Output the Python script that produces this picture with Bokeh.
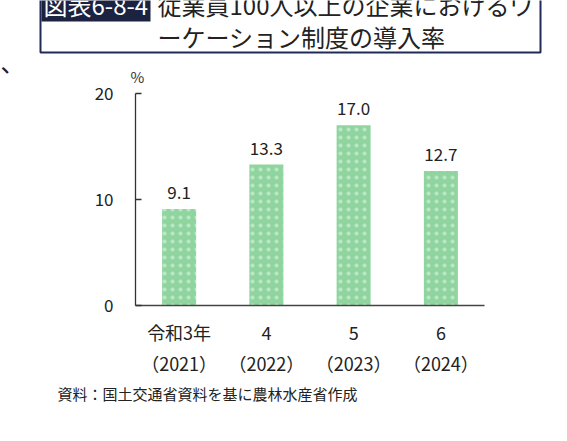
from bokeh.plotting import figure
from bokeh.layouts import column
from bokeh.models import Range1d, FixedTicker, CategoricalAxis, FactorRange, ColumnDataSource
from bokeh.core.properties import value
from bokeh.embed import file_html
from bokeh.resources import INLINE

# ---- data ----
eras = ["令和3年", "4", "5", "6"]
years = ["（2021）", "（2022）", "（2023）", "（2024）"]
rates = [9.1, 13.3, 17.0, 12.7]
y_ticks = [0, 10, 20]

title_tag = "図表6-8-4"
title_line1 = "従業員100人以上の企業におけるワ"
title_line2 = "ーケーション制度の導入率"
unit_text = "%"
source_text = "資料：国土交通省資料を基に農林水産省作成"

FONT = "Noto Sans CJK JP"
W = 567
TOP_H, MAIN_H, BOT_H = 85, 293, 63
FL, FR, FT, FB = 135, 484, 93, 305  # frame edges in page px


def no_align(f):
    try:
        f.frame_align = False
    except Exception:
        pass


def deco_fig(h):
    f = figure(width=W, height=h, x_range=Range1d(0, W), y_range=Range1d(h, 0),
               x_axis_type=None, y_axis_type=None, output_backend="svg",
               toolbar_location=None, min_border=0)
    f.outline_line_color = None
    f.xgrid.visible = False
    f.ygrid.visible = False
    no_align(f)
    return f


# ---- title strip ----
top = deco_fig(TOP_H)
top.quad(left=[40], right=[540], top=[-20], bottom=[52],
         fill_color=None, line_color="#1f2a56", line_width=2)
top.quad(left=[41], right=[150], top=[-20], bottom=[21],
         fill_color="#1c2340", line_color=None)
top.text(x=[43], y=[4], text=[title_tag], text_font=value(FONT),
         text_font_size="24px", text_color="white",
         text_align="left", text_baseline="middle")
top.text(x=[157, 157], y=[4, 36], text=[title_line1, title_line2],
         text_font=value(FONT), text_font_size="24px", text_color="#222222",
         text_align="left", text_baseline="middle")
top.text(x=[0], y=[61], text=["、"], text_font=value(FONT),
         text_font_size="24px", text_color="#222222",
         text_align="left", text_baseline="middle")
top.text(x=[137], y=[76], text=[unit_text], text_font=value(FONT),
         text_font_size="15px", text_color="#333333",
         text_align="center", text_baseline="middle")

# ---- main chart ----
p = figure(x_range=FactorRange(*eras), y_range=Range1d(0, 20), width=W, height=MAIN_H,
           output_backend="svg", toolbar_location=None,
           min_border_left=FL, min_border_right=W - FR,
           min_border_top=FT - TOP_H, min_border_bottom=TOP_H + MAIN_H - FB)
p.outline_line_color = None
p.xgrid.visible = False
p.ygrid.visible = False
no_align(p)
p.extra_x_ranges = {"years": FactorRange(*years)}

src = ColumnDataSource(dict(x=eras, top=rates,
                            label=[f"{v:.1f}" for v in rates],
                            ly=[v + 1.55 for v in rates]))
p.vbar(x="x", top="top", width=0.39, source=src,
       fill_color="#90d5a0", line_color=None,
       hatch_pattern="dot", hatch_color="white", hatch_alpha=0.4,
       hatch_scale=8, hatch_weight=0.6)
p.text(x="x", y="ly", text="label", source=src,
       text_font=value(FONT), text_font_size="17px", text_color="#222222",
       text_align="center", text_baseline="alphabetic")

ya = p.yaxis[0]
ya.ticker = FixedTicker(ticks=y_ticks)
ya.minor_tick_line_color = None
ya.major_tick_in = 6
ya.major_tick_out = 0
ya.axis_line_color = "#333333"
ya.axis_line_width = 1.3
ya.major_tick_line_color = "#333333"
ya.major_tick_line_width = 1.3
ya.major_label_text_font = FONT
ya.major_label_text_font_size = "17px"
ya.major_label_text_color = "#222222"
ya.major_label_standoff = 22

xa = p.xaxis[0]
xa.axis_line_color = "#444444"
xa.axis_line_width = 1.3
xa.major_tick_line_color = None
xa.minor_tick_line_color = None
xa.major_tick_out = 0
xa.major_tick_in = 0
xa.major_label_text_font = FONT
xa.major_label_text_font_size = "18px"
xa.major_label_text_color = "#222222"
xa.major_label_standoff = 13

xa2 = CategoricalAxis(x_range_name="years")
xa2.axis_line_color = None
xa2.major_tick_line_color = None
xa2.minor_tick_line_color = None
xa2.major_tick_out = 0
xa2.major_tick_in = 0
xa2.major_label_text_font = FONT
xa2.major_label_text_font_size = "18px"
xa2.major_label_text_color = "#222222"
xa2.major_label_standoff = 2
p.add_layout(xa2, "below")

# ---- source strip ----
bot = deco_fig(BOT_H)
bot.text(x=[57], y=[393 - TOP_H - MAIN_H], text=[source_text], text_font=value(FONT),
         text_font_size="15px", text_color="#222222",
         text_align="left", text_baseline="middle")

layout = column(top, p, bot, spacing=0)
open("out.html", "w").write(file_html(layout, INLINE))
